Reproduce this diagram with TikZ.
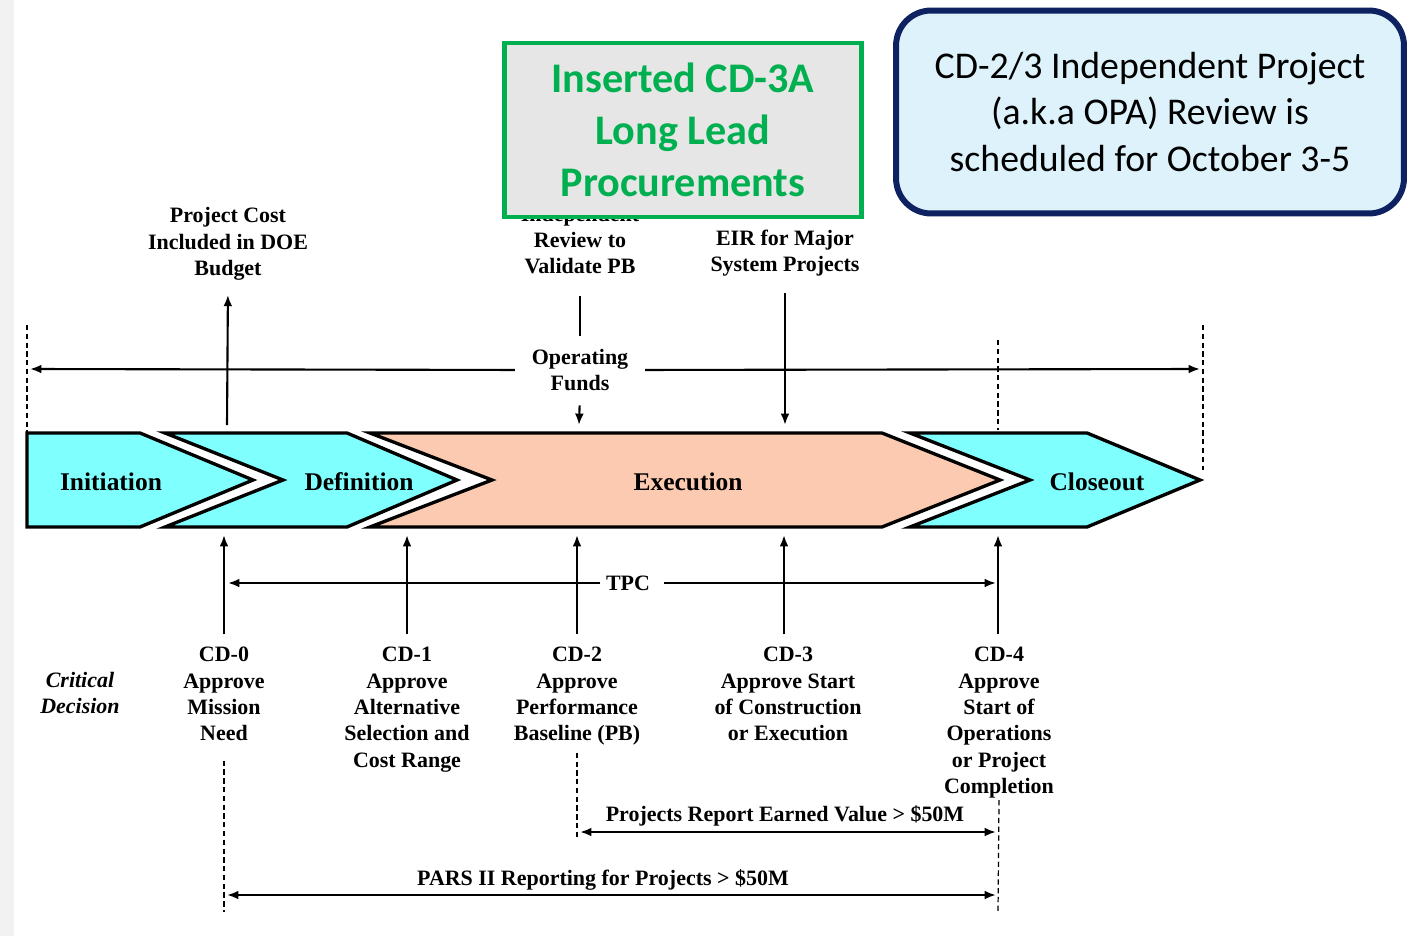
\documentclass[tikz,border=0pt]{standalone}
\usepackage{fontspec}
\setmainfont{Liberation Serif}
\newfontfamily\calibri{Carlito}
\usetikzlibrary{positioning,arrows.meta}
\definecolor{phasecyan}{RGB}{128,255,255}
\definecolor{phasepeach}{RGB}{251,202,176}
\definecolor{notegreen}{RGB}{0,176,80}
\definecolor{notegrey}{RGB}{230,230,230}
\definecolor{notenavy}{RGB}{14,33,96}
\definecolor{noteblue}{RGB}{221,242,251}

\begin{document}
\begin{tikzpicture}[x=0.02cm, y=-0.02cm,
                      phase/.style = {draw=black, line width=1.9pt, line join=miter},
                      phaselbl/.style = {font=\bfseries\fontsize{14.5}{17}\selectfont},
                      lbl/.style = {align=center, inner sep=1pt,
                        font=\bfseries\fontsize{12.5}{15}\selectfont},
                      arr/.style = {line width=1.2pt, -{Latex[length=6.5pt,width=5pt]}},
                      twoarr/.style = {line width=1.2pt,
                        {Latex[length=6.5pt,width=5pt]}-{Latex[length=6.5pt,width=5pt]}},
                      guide/.style = {line width=0.7pt, dash pattern=on 3pt off 2pt}]
  \fill[white] (0,0) rectangle (1412,936);
  \fill[black!5] (0,0) rectangle (14,936);
  \useasboundingbox (0,0) rectangle (1412,936);

  % phases
  \filldraw[phase, fill=phasecyan] (27,433) -- (140,433) -- (253,480) -- (140,527) -- (27,527) -- cycle;
  \filldraw[phase, fill=phasecyan] (165,433) -- (347,433) -- (457,480) -- (347,527) -- (165,527) -- (283,480) -- cycle;
  \filldraw[phase, fill=phasepeach] (370,433) -- (882,433) -- (1000,480) -- (882,527) -- (370,527) -- (492,480) -- cycle;
  \filldraw[phase, fill=phasecyan] (910,433) -- (1087,433) -- (1200,480) -- (1087,527) -- (910,527) -- (1030,480) -- cycle;
  \node[phaselbl] (initlbl) at (111,482) {Initiation};
  \node[phaselbl] (deflbl) at (359,482) {Definition};
  \node[phaselbl] (execlbl) at (688,482) {Execution};
  \node[phaselbl] (closelbl) at (1097,482) {Closeout};

  % above the phases
  \node[lbl] (costlbl) at (228,244) {Project Cost\\Included in DOE\\Budget};
  \node[lbl] (reviewlbl) at (580,240) {Independent\\Review to\\Validate PB};
  \node[lbl] (eirlbl) at (785,253) {EIR for Major\\System Projects};
  \node[lbl] (fundslbl) at (580,370) {Operating\\Funds};
  \coordinate (costfoot) at (227,425);
  \coordinate (fundsfoot) at (579,425);
  \coordinate (eirfoot) at (785,425);
  \coordinate (lifeleft) at (30,369);
  \coordinate (liferight) at (1200,369);
  \draw[arr, shorten >=7pt] (costfoot) -- (costlbl.south);
  \draw[line width=1.2pt, shorten <=11pt, shorten >=6pt] (reviewlbl.south) -- (fundslbl.north);
  \draw[arr, shorten <=7pt] (fundslbl.south) -- (fundsfoot);
  \draw[arr, shorten <=8.5pt] (eirlbl.south) -- (eirfoot);
  \draw[arr, shorten <=8.5pt] (fundslbl.west) -- (lifeleft);
  \draw[arr, shorten <=8.5pt] (fundslbl.east) -- (liferight);
  \draw[guide] (27,325) -- (27,433);
  \draw[guide] (998,340) -- (998,430);
  \draw[guide] (1203,325) -- (1203,470);

  % notes
  \node[draw=notegreen, line width=2.8pt, fill=notegrey, minimum width=7.14cm,
        minimum height=3.48cm, inner sep=0pt, align=center, text=notegreen,
        font=\calibri\bfseries\fontsize{24}{29.6}\selectfont]
        (cd3abox) at (683,130) {Inserted CD-3A\\Long Lead\\Procurements};
  \node[draw=notenavy, line width=3.4pt, fill=noteblue, rounded corners=20pt,
        minimum width=10.16cm, minimum height=4.06cm, inner sep=0pt, align=center,
        font=\calibri\fontsize{21.5}{26.2}\selectfont]
        (opabox) at (1150,112) {CD-2/3 Independent Project\\(a.k.a OPA) Review is\\scheduled for October 3-5};

  % critical decisions
  \node[lbl, font=\bfseries\itshape\fontsize{12.5}{15}\selectfont] (critlbl) at (80,693) {Critical\\Decision};
  \node[lbl, anchor=north] (cd0) at (224,645) {CD-0\\Approve\\Mission\\Need};
  \node[lbl, anchor=north] (cd1) at (407,645) {CD-1\\Approve\\Alternative\\Selection and\\Cost Range};
  \node[lbl, anchor=north] (cd2) at (577,645) {CD-2\\Approve\\Performance\\Baseline (PB)};
  \node[lbl, anchor=north] (cd3) at (788,645) {CD-3\\Approve Start\\of Construction\\or Execution};
  \node[lbl, anchor=north] (cd4) at (999,645) {CD-4\\Approve\\Start of\\Operations\\or Project\\Completion};
  \foreach \cd/\x in {cd0/224, cd1/407, cd2/577, cd3/784, cd4/998} {
    \coordinate (\cd tip) at (\x,535);
    \draw[arr, shorten <=6pt] (\cd tip |- \cd.north) -- (\cd tip);
  }

  % cost and reporting spans
  \node[lbl] (tpclbl) at (628,583) {TPC};
  \coordinate (tpcleft) at (228,583);
  \coordinate (tpcright) at (996,583);
  \draw[arr, shorten <=2pt] (tpclbl.west) -- (tpcleft);
  \draw[arr, shorten <=7pt] (tpclbl.east) -- (tpcright);
  \coordinate (cd0end) at (224,912);
  \coordinate (cd2end) at (577,838);
  \coordinate (cd4end) at (998,912);
  \draw[guide, shorten <=10pt] (cd0.south) -- (cd0end);
  \draw[guide, shorten <=3pt] (cd2.south) -- (cd2end);
  \draw[guide] (cd4.south) -- (cd4end);
  \node[lbl] (evlbl) at (785,816) {Projects Report Earned Value > \$50M};
  \node[lbl] (parslbl) at (603,880) {PARS II Reporting for Projects > \$50M};
  \coordinate (evleft) at (580,832);
  \coordinate (evright) at (996,832);
  \coordinate (parsleft) at (227,895);
  \coordinate (parsright) at (996,895);
  \draw[twoarr] (evleft) -- (evright);
  \draw[twoarr] (parsleft) -- (parsright);
\end{tikzpicture}
\end{document}
